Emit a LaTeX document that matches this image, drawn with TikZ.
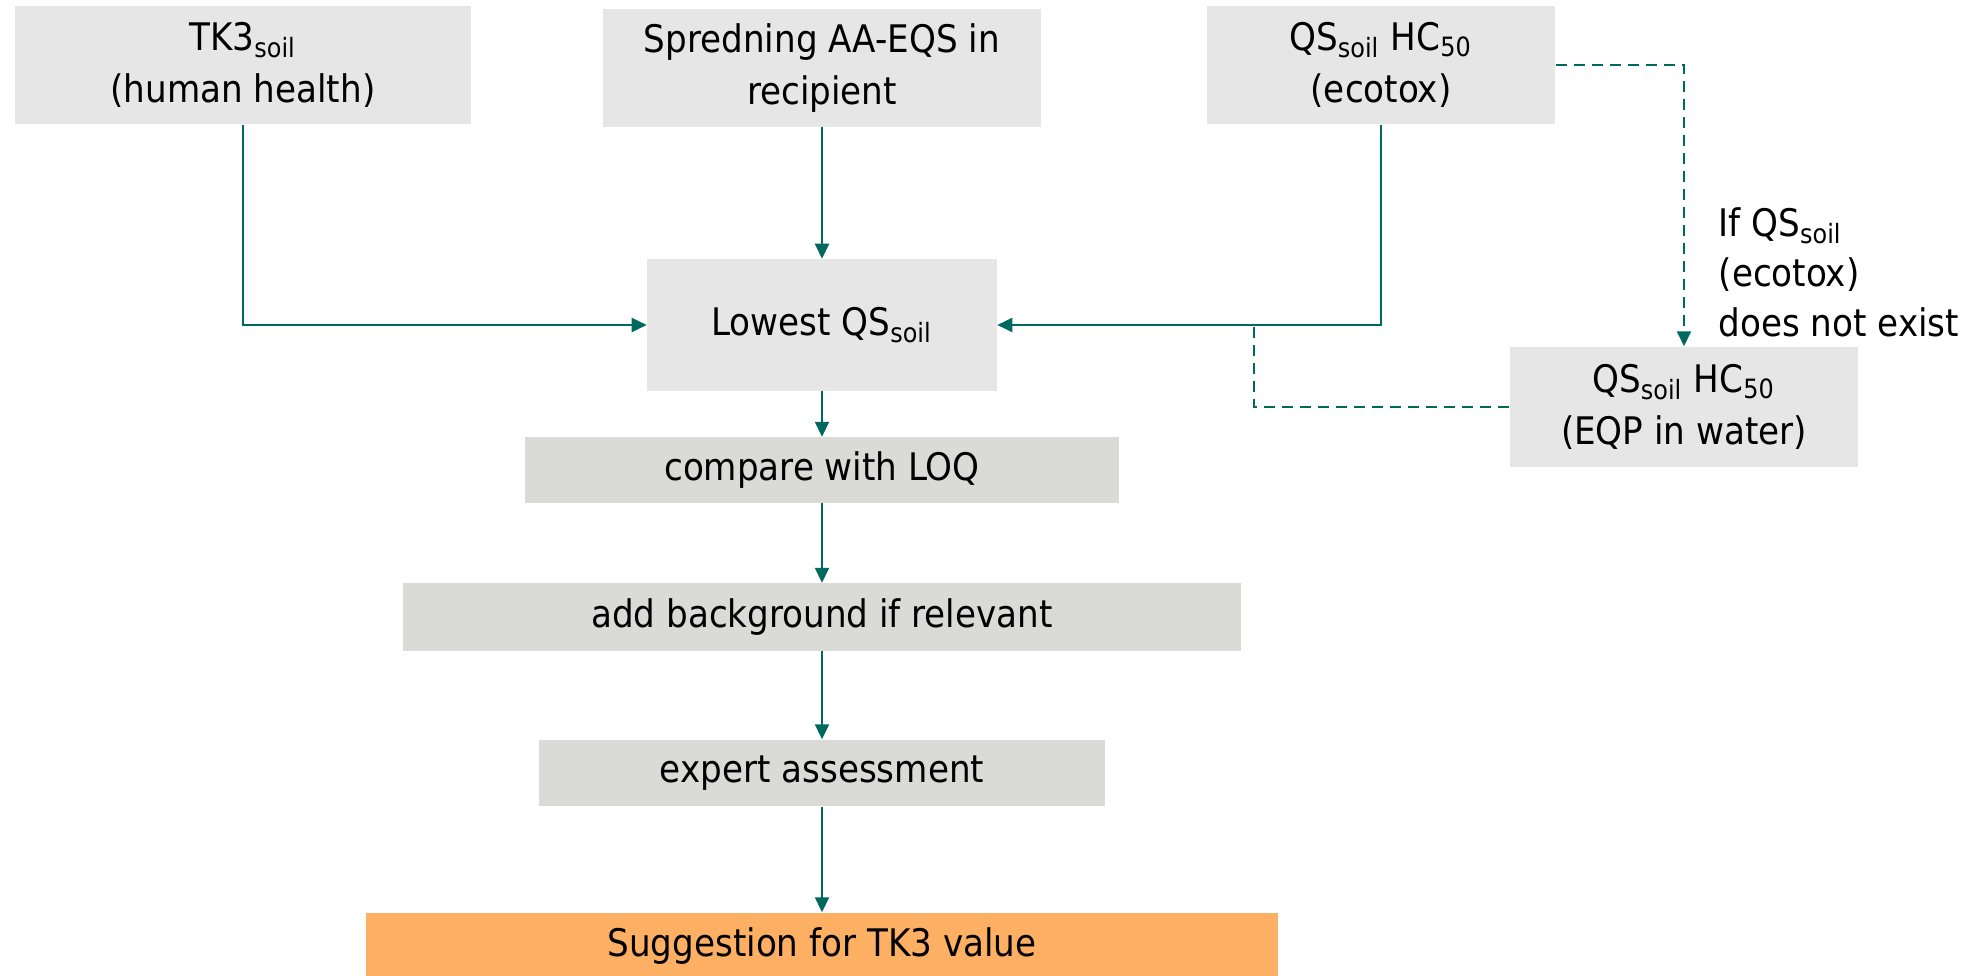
\documentclass[tikz,border=0pt]{standalone}
\usepackage{fontspec}
\setmainfont{DejaVu Sans Condensed}
\usetikzlibrary{arrows.meta}
\definecolor{flowteal}{HTML}{00695F}
\definecolor{boxgrey}{HTML}{E6E6E6}
\definecolor{stepgrey}{HTML}{DADAD6}
\definecolor{resultorange}{HTML}{FDB064}
\newcommand{\soil}{\textsubscript{soil}}
\tikzset{
	x=0.01cm, y=-0.01cm,
	>={Triangle[length=0.15cm,width=0.14cm]},
	every node/.style={font=\fontsize{10.8}{15}\selectfont, align=center, inner sep=0pt},
	srcbox/.style={fill=boxgrey},
	stepbox/.style={fill=stepgrey},
	resultbox/.style={fill=resultorange},
	flow/.style={->, flowteal, line width=0.6pt},
	altflow/.style={flow, dash pattern=on 0.11cm off 0.07cm}}

\begin{document}
\begin{tikzpicture}
		\useasboundingbox (0,0) rectangle (1978,976);

		\node[srcbox, minimum width=4.55cm, minimum height=1.18cm] (tk3) at (243,65) {TK3\soil\\(human health)};
		\node[srcbox, minimum width=4.37cm, minimum height=1.17cm] (spred) at (822,68) {Spredning AA-EQS in\\recipient};
		\node[srcbox, minimum width=3.48cm, minimum height=1.18cm] (ecotox) at (1381,65) {QS\soil{} HC\textsubscript{50}\\(ecotox)};
		\node[srcbox, minimum width=3.49cm, minimum height=1.31cm] (lowest) at (822,325) {Lowest QS\soil};
		\node[srcbox, minimum width=3.48cm, minimum height=1.20cm] (eqp) at (1684,407) {QS\soil{} HC\textsubscript{50}\\(EQP in water)};
		\node[stepbox, minimum width=5.93cm, minimum height=0.65cm] (compare) at (822,470) {compare with LOQ};
		\node[stepbox, minimum width=8.38cm, minimum height=0.67cm] (addbg) at (822,617) {add background if relevant};
		\node[stepbox, minimum width=5.65cm, minimum height=0.66cm] (expert) at (822,773) {expert assessment};
		\node[resultbox, minimum width=9.11cm, minimum height=0.66cm] (result) at (822,946) {Suggestion for TK3 value};
		\node[anchor=west, align=left, font=\fontsize{10.8}{14.2}\selectfont] (note) at (1718,272) {If QS\soil\\(ecotox)\\does not exist};

		\coordinate (join) at (1254,325);

		\draw[flow] (tk3.south) |- (lowest.west);
		\draw[flow] (spred.south) -- (lowest.north);
		\draw[flow] (ecotox.south) |- (lowest.east);
		\draw[altflow] (ecotox.east) -| (eqp.north);
		\draw[altflow, -] (eqp.west) -| (join);
		\draw[flow] (lowest) -- (compare);
		\draw[flow] (compare) -- (addbg);
		\draw[flow] (addbg) -- (expert);
		\draw[flow] (expert) -- (result);
	\end{tikzpicture}
\end{document}
